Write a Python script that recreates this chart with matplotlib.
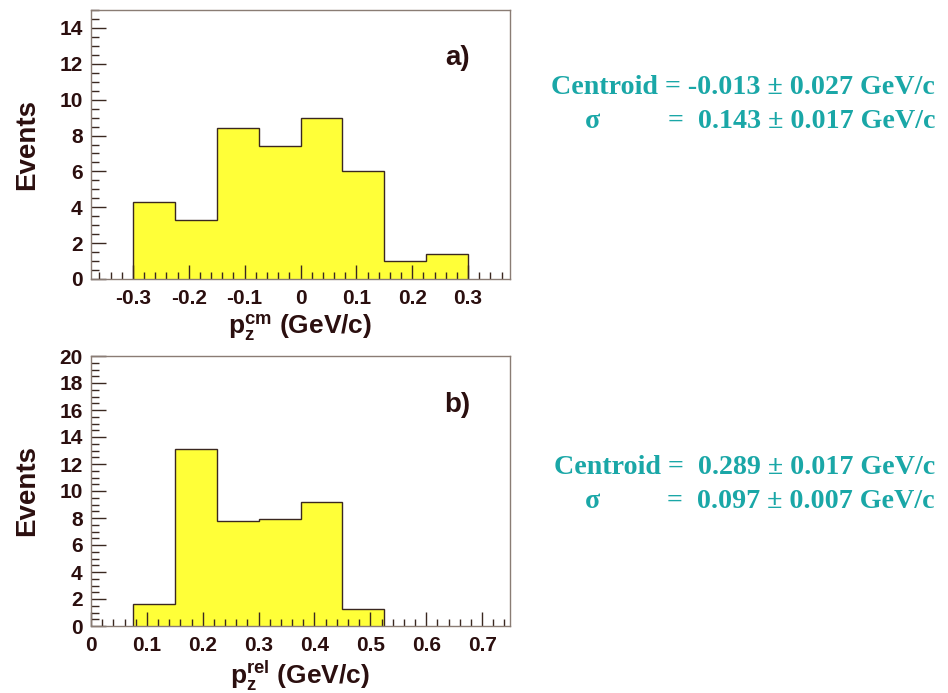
import matplotlib
matplotlib.use("Agg")
import matplotlib.pyplot as plt
from matplotlib.ticker import MultipleLocator, FixedLocator

plt.rcParams['font.family'] = ['Liberation Sans', 'DejaVu Sans']
plt.rcParams['mathtext.fontset'] = 'custom'
plt.rcParams['mathtext.bf'] = 'Liberation Sans:bold'
plt.rcParams['mathtext.rm'] = 'Liberation Sans:bold'
plt.rcParams['mathtext.it'] = 'Liberation Sans:bold'

# Panel a) centre-of-mass momentum distribution
cm_edges = [-0.3, -0.225, -0.15, -0.075, 0.0, 0.075, 0.15, 0.225, 0.3]
cm_counts = [4.3, 3.3, 8.4, 7.4, 9.0, 6.0, 1.0, 1.4]
cm_ticks = [-0.3, -0.2, -0.1, 0.0, 0.1, 0.2, 0.3]
cm_ticklabels = ["-0.3", "-0.2", "-0.1", "0", "0.1", "0.2", "0.3"]
cm_yticks = [0, 2, 4, 6, 8, 10, 12, 14]

# Panel b) relative momentum distribution
rel_edges = [0.075, 0.15, 0.225, 0.3, 0.375, 0.45, 0.525]
rel_counts = [1.6, 13.1, 7.8, 7.95, 9.2, 1.25]
rel_ticks = [0.0, 0.1, 0.2, 0.3, 0.4, 0.5, 0.6, 0.7]
rel_ticklabels = ["0", "0.1", "0.2", "0.3", "0.4", "0.5", "0.6", "0.7"]
rel_yticks = [0, 2, 4, 6, 8, 10, 12, 14, 16, 18, 20]

fit_a = ["Centroid = -0.013 \u00b1 0.027 GeV/c", "=  0.143 \u00b1 0.017 GeV/c"]
fit_b = ["Centroid =  0.289 \u00b1 0.017 GeV/c", "=  0.097 \u00b1 0.007 GeV/c"]

FILL = '#FFFF38'
EDGE = '#3a2820'
FRAME = '#8a7c74'
INK = '#2b0f0f'
TEAL = '#1aa7a7'

W, H = 948, 693
fig = plt.figure(figsize=(W / 100, H / 100), dpi=100)


def frac(x0, y0, x1, y1):
    return [x0 / W, 1 - y1 / H, (x1 - x0) / W, (y1 - y0) / H]


def style_axes(ax, ticks, labels, yticks):
    for sp in ax.spines.values():
        sp.set_color(FRAME)
        sp.set_linewidth(1.0)
    ax.xaxis.set_major_locator(FixedLocator(ticks))
    ax.set_xticklabels(labels)
    ax.xaxis.set_minor_locator(MultipleLocator(0.02))
    ax.set_yticks(yticks)
    ax.yaxis.set_minor_locator(MultipleLocator(0.5))
    ax.tick_params(axis='both', which='both', direction='in', color=EDGE,
                   top=False, right=False, labelcolor=INK, labelsize=15)
    ax.tick_params(axis='x', which='major', length=10, width=1.0, pad=7)
    ax.tick_params(axis='x', which='minor', length=5, width=1.0)
    ax.tick_params(axis='y', which='major', length=11, width=1.0, pad=6)
    ax.tick_params(axis='y', which='minor', length=6, width=1.0)
    for lab in ax.get_xticklabels() + ax.get_yticklabels():
        lab.set_fontweight('bold')


# Panel a)
ax1 = fig.add_axes(frac(91, 10, 510, 279))
ax1.stairs(cm_counts, cm_edges, fill=True, facecolor=FILL,
           edgecolor=EDGE, linewidth=1.0)
ax1.set_xlim(-0.375, 0.375)
ax1.set_ylim(0, 15)
style_axes(ax1, cm_ticks, cm_ticklabels, cm_yticks)
ax1.set_ylabel("Events", fontsize=20, fontweight='bold', color=INK, labelpad=14)
ax1.set_xlabel(r"p$_\mathbf{z}^\mathbf{cm}$ (GeV/c)", fontsize=19,
               fontweight='bold', color=INK, labelpad=3)
ax1.text(0.875, 0.82, "a)", transform=ax1.transAxes, fontsize=20,
         fontweight='bold', color=INK, ha='center', va='center')

# Panel b)
ax2 = fig.add_axes(frac(91, 356, 510, 626))
ax2.stairs(rel_counts, rel_edges, fill=True, facecolor=FILL,
           edgecolor=EDGE, linewidth=1.0)
ax2.set_xlim(0, 0.75)
ax2.set_ylim(0, 20)
style_axes(ax2, rel_ticks, rel_ticklabels, rel_yticks)
ax2.set_ylabel("Events", fontsize=20, fontweight='bold', color=INK, labelpad=14)
ax2.set_xlabel(r"p$_\mathbf{z}^\mathbf{rel}$ (GeV/c)", fontsize=19,
               fontweight='bold', color=INK, labelpad=3)
ax2.text(0.875, 0.82, "b)", transform=ax2.transAxes, fontsize=20,
         fontweight='bold', color=INK, ha='center', va='center')

# Fit results
serif = ['Liberation Serif', 'DejaVu Serif']


def fit_block(lines, y_top):
    fig.text(935 / W, 1 - y_top / H, lines[0], ha='right', va='center',
             fontsize=20.2, fontweight='bold', color=TEAL, family=serif)
    fig.text(935 / W, 1 - (y_top + 34) / H, lines[1], ha='right', va='center',
             fontsize=20.2, fontweight='bold', color=TEAL, family=serif)
    fig.text(593 / W, 1 - (y_top + 34) / H, "\u03c3", ha='center', va='center',
             fontsize=20.2, fontweight='bold', color=TEAL, family=serif)


fit_block(fit_a, 88)
fit_block(fit_b, 468)

fig.savefig("out.png", dpi=100)
